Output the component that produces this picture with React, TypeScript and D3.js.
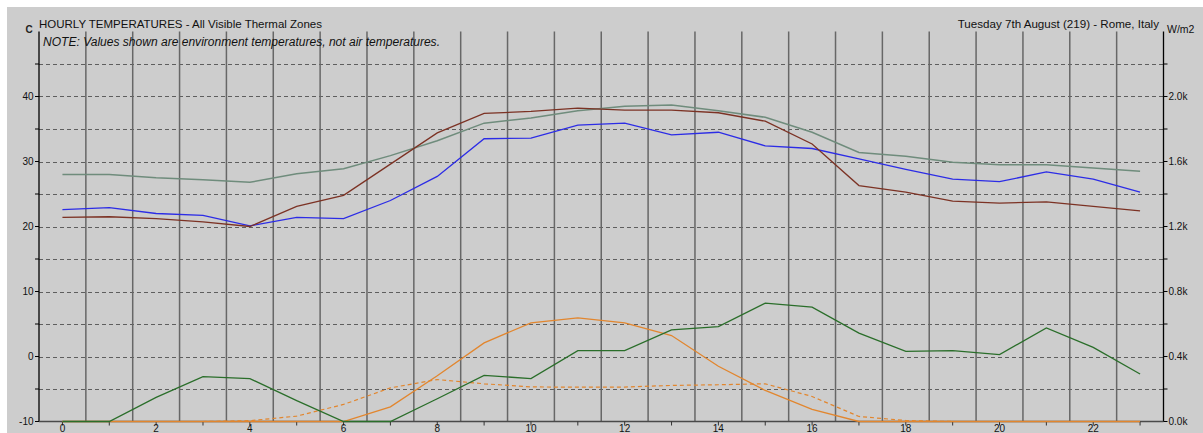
import React from "react";
import * as d3 from "d3";

const hours: number[] = d3.range(24);
const leftTicks: number[] = [-10, 0, 10, 20, 30, 40];
const gridTicks: number[] = [-5, 0, 5, 10, 15, 20, 25, 30, 35, 40, 45];
const rightTicks: number[] = [0, 400, 800, 1200, 1600, 2000];
const rightTickLabels: string[] = ["0.0k", "0.4k", "0.8k", "1.2k", "1.6k", "2.0k"];

// zone temperatures (C)
const zoneGrey: number[] = [28.0, 28.0, 27.5, 27.2, 26.8, 28.1, 28.9, 30.9, 33.2, 35.9, 36.7, 37.8, 38.5, 38.7, 37.8, 36.8, 34.5, 31.4, 30.8, 29.9, 29.5, 29.5, 29.0, 28.5];
const zoneBrown: number[] = [21.4, 21.5, 21.2, 20.7, 20.0, 23.1, 24.8, 29.6, 34.4, 37.4, 37.7, 38.2, 37.9, 37.9, 37.5, 36.2, 32.7, 26.3, 25.3, 23.9, 23.6, 23.8, 23.1, 22.4];
const zoneBlue: number[] = [22.6, 22.9, 22.0, 21.7, 20.1, 21.4, 21.2, 24.0, 27.7, 33.5, 33.6, 35.6, 35.9, 34.1, 34.5, 32.4, 32.0, 30.4, 28.8, 27.3, 26.9, 28.4, 27.3, 25.3];
const greenSeries: number[] = [-10, -10, -6.3, -3.1, -3.4, -6.8, -10, -10, -6.5, -2.9, -3.4, 0.9, 0.9, 4.1, 4.6, 8.2, 7.6, 3.6, 0.8, 0.9, 0.3, 4.4, 1.4, -2.7];
// solar (W/m2)
const beamSolar: number[] = [0, 0, 0, 0, 0, 0, 0, 90, 281, 484, 607, 638, 607, 529, 340, 191, 75, 0, 0, 0, 0, 0, 0, 0];
const diffuseSolar: number[] = [0, 0, 0, 0, 5, 33, 105, 207, 258, 232, 213, 211, 212, 222, 226, 232, 154, 31, 6, 0, 0, 0, 0, 0];

const W = 1203;
const H = 433;
const left = 39;
const right = 1163.5;
const top = 31.5;
const bottom = 421.5;

export default function App() {
  const x = d3.scaleLinear().domain([-0.5, 23.5]).range([left, right]);
  const y = d3.scaleLinear().domain([-10, 50]).range([bottom, top]);
  const yR = d3.scaleLinear().domain([0, 2400]).range([bottom, top]);

  const lineL = d3
    .line<number>()
    .x((_, i) => x(hours[i]))
    .y((d) => y(d));
  const lineR = d3
    .line<number>()
    .x((_, i) => x(hours[i]))
    .y((d) => yR(d));

  const font = "'Liberation Sans', Arial, sans-serif";

  return (
    <>
      <style>{`body{margin:0;overflow:hidden}`}</style>
      <svg width={W} height={H} style={{ display: "block" }} fontFamily={font}>
        <rect x={0} y={0} width={W} height={H} fill="#ffffff" />
        <rect x={7} y={7} width={W - 7} height={H - 7} fill="#cdcdcd" />

        {/* horizontal dashed grid */}
        {gridTicks.map((t) => (
          <line
            key={"g" + t}
            x1={left}
            x2={right}
            y1={Math.round(y(t)) + 0.5}
            y2={Math.round(y(t)) + 0.5}
            stroke="#5e5e5e"
            strokeWidth={1}
            strokeDasharray="4,3"
          />
        ))}

        {/* vertical solid grid at half hours */}
        {hours.slice(0, 23).map((h) => (
          <line
            key={"v" + h}
            x1={x(h + 0.5)}
            x2={x(h + 0.5)}
            y1={top}
            y2={bottom}
            stroke="#676767"
            strokeWidth={1.5}
          />
        ))}

        {/* axes */}
        <line x1={left} x2={left} y1={top} y2={bottom} stroke="#000" strokeWidth={1.3} />
        <line x1={right} x2={right} y1={top} y2={bottom} stroke="#000" strokeWidth={1.3} />
        <line x1={left} x2={right} y1={bottom} y2={bottom} stroke="#4a4a4a" strokeWidth={1.3} />

        {/* left ticks */}
        {leftTicks.map((t) => (
          <g key={"lt" + t}>
            <line x1={left - 4} x2={left} y1={y(t)} y2={y(t)} stroke="#000" />
            <text x={left - 5.5} y={y(t)} dy="0.35em" fontSize={10} textAnchor="end" fill="#111">
              {t}
            </text>
          </g>
        ))}
        {gridTicks
          .filter((t) => !leftTicks.includes(t))
          .map((t) => (
            <line key={"lm" + t} x1={left - 4} x2={left} y1={y(t)} y2={y(t)} stroke="#000" />
          ))}

        {/* right ticks */}
        {rightTicks.map((t, i) => (
          <g key={"rt" + t}>
            <line x1={right} x2={right + 4} y1={yR(t)} y2={yR(t)} stroke="#000" />
            <text x={right + 5} y={yR(t)} dy="0.35em" fontSize={10} textAnchor="start" fill="#111">
              {rightTickLabels[i]}
            </text>
          </g>
        ))}
        {gridTicks
          .filter((t) => !leftTicks.includes(t))
          .map((t) => (
            <line key={"rm" + t} x1={right} x2={right + 4} y1={y(t)} y2={y(t)} stroke="#000" />
          ))}

        {/* bottom ticks */}
        {hours.map((h) => (
          <g key={"bt" + h}>
            <line x1={x(h)} x2={x(h)} y1={bottom} y2={bottom + 4} stroke="#333" />
            {h % 2 === 0 && (
              <text x={x(h)} y={432} fontSize={10} textAnchor="middle" fill="#111">
                {h}
              </text>
            )}
          </g>
        ))}

        {/* solar lines */}
        <path d={lineR(diffuseSolar) || ""} fill="none" stroke="#e2862e" strokeWidth={1.2} strokeDasharray="4,3" />
        <path d={lineR(beamSolar) || ""} fill="none" stroke="#e2862e" strokeWidth={1.3} />

        {/* green line */}
        <path d={lineL(greenSeries) || ""} fill="none" stroke="#2a6e2a" strokeWidth={1.3} />

        {/* zone temperature lines */}
        <path d={lineL(zoneGrey) || ""} fill="none" stroke="#6f8c7c" strokeWidth={1.5} />
        <path d={lineL(zoneBlue) || ""} fill="none" stroke="#2c2ce6" strokeWidth={1.3} />
        <path d={lineL(zoneBrown) || ""} fill="none" stroke="#7c3224" strokeWidth={1.3} />

        {/* titles */}
        <text x={25.5} y={33} fontSize={10} fontWeight="bold" fill="#222">
          C
        </text>
        <text x={left} y={27.5} fontSize={11.5} fill="#111" textLength={283} lengthAdjust="spacingAndGlyphs">
          HOURLY TEMPERATURES - All Visible Thermal Zones
        </text>
        <text x={43} y={45.5} fontSize={12} fontStyle="italic" fill="#111" textLength={397} lengthAdjust="spacingAndGlyphs">
          NOTE: Values shown are environment temperatures, not air temperatures.
        </text>
        <text x={1159} y={27.5} fontSize={11.6} textAnchor="end" fill="#111">
          Tuesday 7th August (219) - Rome, Italy
        </text>
        <text x={1167} y={33} fontSize={10.5} fill="#111">
          W/m2
        </text>
      </svg>
    </>
  );
}
